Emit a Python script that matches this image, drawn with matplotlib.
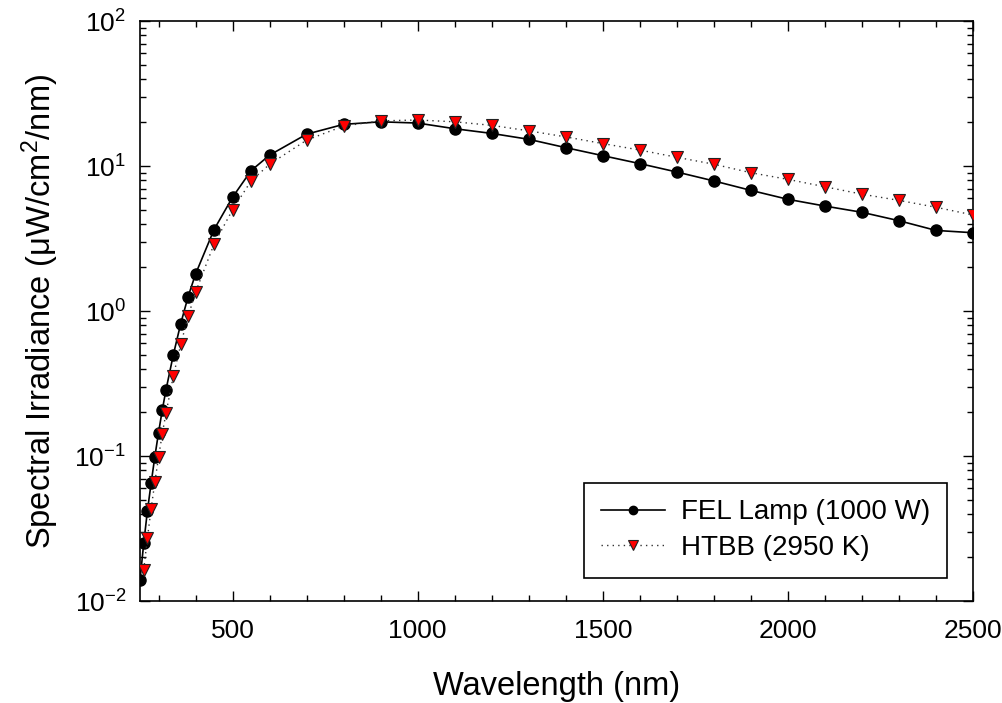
import matplotlib
matplotlib.use("Agg")
import matplotlib.pyplot as plt
from matplotlib.ticker import MultipleLocator, LogLocator, NullFormatter

plt.rcParams['font.family'] = ['Liberation Sans', 'DejaVu Sans']
plt.rcParams['mathtext.fontset'] = 'custom'
plt.rcParams['mathtext.rm'] = 'Liberation Sans'
plt.rcParams['mathtext.it'] = 'Liberation Sans'
plt.rcParams['mathtext.default'] = 'regular'
plt.rcParams['axes.unicode_minus'] = False

# Data
fel_wl = [250, 260, 270, 280, 290, 300, 310, 320, 340, 360, 380, 400, 450, 500, 550, 600,
          700, 800, 900, 1000, 1100, 1200, 1300, 1400, 1500, 1600, 1700, 1800, 1900, 2000,
          2100, 2200, 2300, 2400, 2500]
fel_irr = [0.014, 0.025, 0.042, 0.065, 0.099, 0.145, 0.207, 0.285, 0.50, 0.82, 1.26, 1.80,
           3.65, 6.1, 9.3, 11.9, 16.6, 19.4, 20.2, 19.8, 18.1, 16.8, 15.3, 13.4, 11.8, 10.4,
           9.1, 7.9, 6.8, 5.9, 5.3, 4.8, 4.2, 3.6, 3.47]

htbb_wl = [260, 270, 280, 290, 300, 310, 320, 340, 360, 380, 400, 450, 500, 550, 600,
           700, 800, 900, 1000, 1100, 1200, 1300, 1400, 1500, 1600, 1700, 1800, 1900, 2000,
           2100, 2200, 2300, 2400, 2500]
htbb_irr = [0.0164, 0.0273, 0.0433, 0.066, 0.098, 0.142, 0.197, 0.356, 0.59, 0.92, 1.35,
            2.9, 5.0, 7.9, 10.3, 15.1, 18.9, 20.5, 20.8, 20.2, 19.1, 17.5, 15.9, 14.3, 12.9,
            11.5, 10.3, 9.0, 8.1, 7.2, 6.4, 5.8, 5.2, 4.6]

labels = ["FEL Lamp (1000 W)", "HTBB (2950 K)"]

fig = plt.figure(figsize=(10.03, 7.03), dpi=100)
ax = fig.add_axes([0.1396, 0.145, 0.8305, 0.825])

ax.plot(fel_wl, fel_irr, '-', color='black', lw=1.2, marker='o', markersize=8,
        markerfacecolor='black', markeredgecolor='black', label=labels[0], zorder=3)
ax.plot(htbb_wl, htbb_irr, linestyle=(0, (1, 3)), color='#333333', lw=1.0, marker='v',
        markersize=9, markerfacecolor='#ff0000', markeredgecolor='#222222',
        markeredgewidth=0.8, label=labels[1], zorder=4)

ax.set_yscale('log')
ax.set_xlim(250, 2500)
ax.set_ylim(0.01, 100)

ax.xaxis.set_major_locator(MultipleLocator(500))
ax.xaxis.set_minor_locator(MultipleLocator(100))
ax.yaxis.set_major_locator(LogLocator(base=10, numticks=10))
ax.yaxis.set_minor_locator(LogLocator(base=10, subs=range(2, 10), numticks=20))
ax.yaxis.set_minor_formatter(NullFormatter())

ax.tick_params(which='both', direction='in', top=True, right=True, width=1.0, colors='black')
ax.tick_params(which='major', length=7)
ax.tick_params(which='minor', length=4)
ax.tick_params(axis='x', which='major', labelsize=19, pad=13)
ax.tick_params(axis='y', which='major', labelsize=19, pad=10)

for s in ax.spines.values():
    s.set_linewidth(1.2)
    s.set_color('black')

ax.set_xlabel("Wavelength (nm)", fontsize=23.5, labelpad=20)
ax.set_ylabel("Spectral Irradiance (\u03bcW/cm$^2$/nm)", fontsize=23.5, labelpad=10)

leg = ax.legend(loc='lower right', bbox_to_anchor=(0.969, 0.04), fontsize=20,
                frameon=True, fancybox=False, edgecolor='black', framealpha=1,
                markerscale=0.75, handlelength=2.3, borderpad=0.6, labelspacing=0.35,
                handletextpad=0.6, borderaxespad=0)
leg.get_frame().set_linewidth(1.2)

fig.savefig("out.png", dpi=100)
